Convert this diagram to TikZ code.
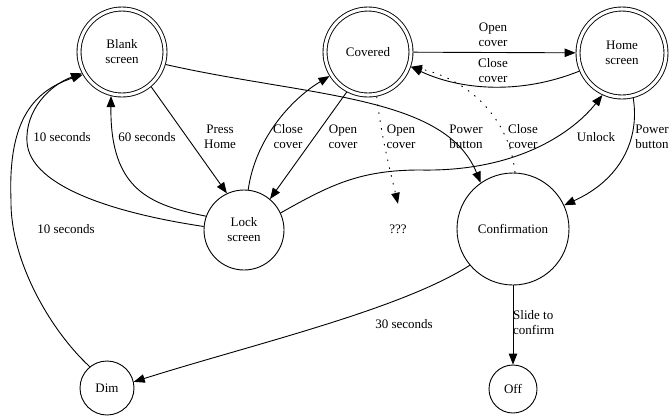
\documentclass[tikz,border=0pt]{standalone}
\usepackage{fontspec}
\setmainfont{Liberation Serif}
\usetikzlibrary{arrows.meta}
\begin{document}
\begin{tikzpicture}[x=1pt,y=-1pt,
  every node/.style={font=\fontsize{13}{15}\selectfont},
  st/.style={draw, circle, line width=0.9pt, align=center, inner sep=1pt},
  acc/.style={st, double, double distance=3.1pt, outer sep=2.4pt},
  lbl/.style={align=center, inner sep=0pt},
  edge/.style={line width=0.9pt, -{Triangle[length=11pt,width=8.5pt]}},
  dot/.style={edge, dash pattern=on 1.5pt off 6.5pt}]
\useasboundingbox (0,0) rectangle (670,416);
% states
\node[acc, minimum size=86pt] (blank) at (122,52) {Blank\\screen};
\node[acc, minimum size=86pt] (covered) at (368,52) {Covered};
\node[acc, minimum size=88pt] (home) at (622,53) {Home\\screen};
\node[st, minimum size=80pt] (lock) at (244,230) {Lock\\screen};
\node[st, minimum size=112pt] (conf) at (513,229) {Confirmation};
\node[st, minimum size=54pt] (dim) at (107,388) {Dim};
\node[st, minimum size=48pt] (off) at (513,389) {Off};
\node[minimum height=50pt] (q) at (398,229) {???};
% transitions
\draw[edge] (blank.-50) -- (lock.115);
\draw[edge] (lock.160) .. controls (150,205) and (110,190) .. (blank.-104);
\draw[edge] (lock.175) .. controls (120,214) and (30,188) .. (27,142) .. controls (25,110) and (50,85) .. (blank.-152);
\draw[edge] (dim.129) .. controls (50,330) and (10,260) .. (11,200) .. controls (8,125) and (30,92) .. (blank.-150);
\draw[edge] (lock.84) .. controls (255,140) and (290,100) .. (covered.-148);
\draw[edge] (covered.-118) -- (lock.50);
\draw[dot] (covered.-79) .. controls (382,140) and (390,170) .. (q.north);
\draw[edge] (blank.-16) .. controls (310,97) and (445,95) .. (conf.125);
\draw[dot] (conf.88) .. controls (510,120) and (470,80) .. (covered.-19);
\draw[edge] (lock.25) .. controls (330,185) and (360,170) .. (420,170) .. controls (520,172) and (575,130) .. (home.-115);
\draw[edge] (home.-76) .. controls (640,140) and (620,180) .. (conf.25);
\draw[edge] (covered) -- (home);
\draw[edge] (home.-157) .. controls (520,95) and (460,90) .. (covered.-19);
\draw[edge] (conf) -- (off);
\draw[edge] (conf.-140) .. controls (400,310) and (250,345) .. (dim.13);
% labels
\node[lbl] (l1) at (220,137) {Press\\Home};
\node[lbl] (l2) at (147,137) {60 seconds};
\node[lbl] (l3) at (62,137) {10 seconds};
\node[lbl] (l4) at (66,229) {10 seconds};
\node[lbl] (l5) at (288,137) {Close\\cover};
\node[lbl] (l6) at (343,137) {Open\\cover};
\node[lbl] (l7) at (401,137) {Open\\cover};
\node[lbl] (l8) at (466,137) {Power\\button};
\node[lbl] (l9) at (523,137) {Close\\cover};
\node[lbl] (l10) at (596,137) {Unlock};
\node[lbl] (l11) at (652,137) {Power\\button};
\node[lbl] (l12) at (493,35) {Open\\cover};
\node[lbl] (l13) at (493,71) {Close\\cover};
\node[lbl, anchor=west, align=left] (l14) at (513,323) {Slide to\\confirm};
\node[lbl] (l15) at (404,324) {30 seconds};
\end{tikzpicture}
\end{document}
